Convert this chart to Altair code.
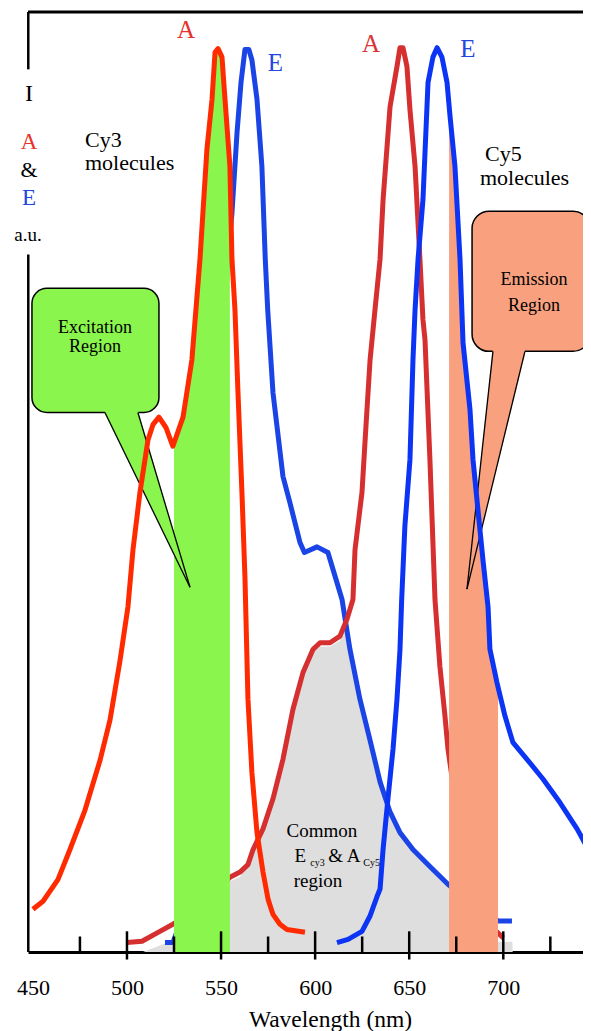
import altair as alt
import pandas as pd

# ---------------- data (nm, a.u.) ----------------
cy3_abs_nm = [450.0, 455.4, 463.3, 469.7, 477.7, 485.7, 491.0, 496.3, 500.5, 503.2,
              506.9, 511.2, 513.8, 517.0, 520.7, 524.4, 529.8, 534.5, 538.8, 542.5,
              545.2, 546.8, 548.4, 550.5, 552.1, 554.7, 555.8, 557.4, 559.0, 561.1,
              562.7, 564.3, 566.4, 569.1, 572.3, 575.0, 577.6, 581.3, 585.0, 594.6]
cy3_abs_val = [4.55, 5.4, 7.7, 10.9, 15.1, 20.4, 24.7, 31.0, 36.7, 42.8,
               48.9, 54.5, 56.1, 56.9, 55.8, 53.8, 56.9, 63.0, 73.7, 85.4,
               90.7, 95.7, 96.1, 95.2, 90.7, 83.6, 73.7, 68.3, 59.5, 48.9,
               39.9, 26.9, 19.1, 12.7, 8.5, 5.6, 4.0, 2.95, 2.4, 2.1]

cy3_em_nm = [520.2, 524.4, 530.0, 536.0, 541.0, 546.0, 550.0, 554.0, 555.8, 558.5,
             560.6, 562.7, 564.8, 566.4, 569.1, 571.7, 573.5, 574.8, 577.6, 582.9,
             586.6, 591.9, 594.3, 601.0, 606.8, 614.3, 618.5, 623.8, 629.1, 634.5,
             639.8, 645.1, 652.0, 661.0, 670.6, 681.0, 690.0, 697.2, 704.6]
cy3_em_val = [1.0, 1.0, 4.0, 12.0, 26.0, 45.0, 62.0, 75.0, 78.6, 87.2,
              92.5, 96.0, 96.0, 94.9, 90.7, 83.6, 73.7, 68.3, 59.5, 50.6,
              47.8, 43.6, 42.5, 43.1, 42.5, 37.5, 32.2, 26.9, 22.6, 18.1,
              14.9, 12.7, 10.9, 9.1, 7.2, 5.5, 4.2, 3.3, 3.3]

cy5_abs_nm = [500.0, 508.0, 517.5, 524.4, 535.0, 545.0, 554.7, 560.1, 564.3, 567.0,
              572.3, 577.6, 582.9, 585.0, 588.2, 593.5, 598.9, 602.6, 607.9, 613.2,
              616.9, 620.1, 621.2, 624.9, 627.0, 629.2, 631.8, 634.5, 636.1, 639.8,
              643.5, 645.1, 646.7, 648.8, 650.4, 653.1, 655.7, 657.3, 658.4, 661.0,
              662.6, 663.7, 666.3, 669.0, 670.6, 676.0, 684.0, 692.0, 700.0]
cy5_abs_val = [1.0, 1.14, 2.2, 2.95, 4.2, 5.8, 7.95, 8.5, 9.3, 10.9,
               13.1, 16.3, 20.5, 22.6, 25.8, 29.7, 32.2, 32.9, 32.9, 33.6,
               35.4, 37.5, 42.8, 48.9, 55.9, 63.0, 68.3, 73.7, 80.0, 89.9,
               94.2, 96.2, 96.2, 94.2, 89.6, 83.6, 73.7, 67.3, 65.1, 52.4,
               43.6, 37.5, 30.4, 25.1, 21.6, 14.0, 7.0, 3.0, 1.5]

cy5_em_nm = [611.6, 617.5, 624.9, 629.1, 632.9, 634.5, 636.1, 638.7, 641.4, 643.5,
             645.1, 646.0, 647.7, 650.4, 652.0, 653.1, 654.7, 657.3, 660.0, 662.6,
             664.8, 667.4, 670.1, 671.7, 674.3, 677.0, 678.6, 682.3, 683.9, 686.5,
             689.2, 691.9, 692.9, 696.6, 700.9, 705.1, 712.6, 721.1, 730.1, 739.2,
             746.6]
cy5_em_val = [1.0, 1.35, 2.2, 3.8, 5.9, 6.7, 10.9, 16.3, 21.6, 26.9,
              32.2, 37.5, 45.3, 52.4, 63.0, 68.3, 73.7, 80.0, 92.5, 95.2,
              96.2, 95.2, 92.5, 88.9, 83.6, 73.7, 64.8, 57.7, 52.4, 47.1,
              41.7, 36.7, 32.2, 28.7, 25.1, 22.3, 20.5, 18.4, 15.9, 13.1,
              10.4]

# shaded regions
excitation_nm = [525.0, 529.8, 534.5, 538.8, 542.5, 545.2, 546.8, 548.4, 550.5, 552.1, 554.7]
excitation_val = [53.6, 56.9, 63.0, 73.7, 85.4, 90.7, 95.7, 96.1, 95.2, 90.7, 83.6]

emission_nm = [671.2, 671.7, 674.3, 677.0, 678.6, 682.3, 683.9, 686.5, 689.2, 691.9, 692.9, 696.6, 697.2]
emission_val = [88.0, 88.9, 83.6, 73.7, 64.8, 57.7, 52.4, 47.1, 41.7, 36.7, 32.2, 28.7, 28.3]

common_nm = [508.5, 520.2, 524.4, 540.0, 554.7, 560.1, 567.0, 572.3, 577.6, 582.9,
             588.2, 593.5, 598.9, 602.6, 607.9, 613.2, 615.9, 618.5, 623.8, 629.1,
             634.5, 639.8, 645.1, 652.0, 661.0, 670.6, 685.0, 697.2, 704.8, 705.0]
common_val = [0.0, 0.9, 0.9, 3.0, 7.5, 8.0, 10.4, 12.6, 15.7, 20.0,
              25.3, 29.2, 31.8, 32.5, 32.5, 33.1, 36.0, 31.9, 26.6, 22.3,
              17.7, 14.6, 12.4, 10.6, 8.8, 6.9, 3.0, 1.1, 1.1, 0.0]

label_ticks = [450, 500, 550, 600, 650, 700]
major_ticks = [500, 550, 600, 650, 700]
minor_ticks = [475, 525, 575, 625, 675, 725]

PLOT_W = 555
X_MIN = 447.4
X_MAX = X_MIN + PLOT_W / 1.8816
FONT = "Liberation Serif, Times New Roman, serif"

# ---------------- scales / helpers ----------------
xs = alt.Scale(domain=[X_MIN, X_MAX], nice=False, zero=False)
ys = alt.Scale(domain=[0, 100], nice=False, zero=False)
xaxis = alt.Axis(values=label_ticks, ticks=False, tickSize=0, grid=False,
                 domainColor="black", domainWidth=3,
                 labelFont=FONT, labelFontSize=22, labelColor="black",
                 labelBaseline="middle", labelPadding=35, labelFlush=False,
                 labelOverlap=False,
                 title="Wavelength (nm)", titleFont=FONT, titleFontSize=23.5,
                 titleFontWeight="normal", titleColor="black",
                 titleX=302, titleY=74, titleBaseline="alphabetic", titleAlign="center")


def X(f):
    return alt.X(f, type="quantitative", scale=xs, axis=xaxis)


def Y(f):
    return alt.Y(f, type="quantitative", scale=ys, axis=None)


def curve(nm, val):
    return pd.DataFrame({"nm": nm, "val": val})


def line_layer(nm, val, color):
    return alt.Chart(curve(nm, val)).mark_line(
        color=color, strokeWidth=5, strokeJoin="round").encode(x=X("nm"), y=Y("val"))


def area_layer(nm, val, color):
    return alt.Chart(curve(nm, val)).mark_area(color=color, opacity=1).encode(
        x=X("nm"), y=Y("val"), y2=alt.datum(0))


gray = area_layer(common_nm, common_val, "#dedede")
cy3_em = line_layer(cy3_em_nm, cy3_em_val, "#1a44e6")
cy5_abs = line_layer(cy5_abs_nm, cy5_abs_val, "#d62f2f")
green = area_layer(excitation_nm, excitation_val, "#8af54c")
salmon = area_layer(emission_nm, emission_val, "#f9a07f")
cy3_abs = line_layer(cy3_abs_nm, cy3_abs_val, "#ff2a00")
cy5_em = line_layer(cy5_em_nm, cy5_em_val, "#0b34f5")

# ---------------- callouts (speech bubbles) ----------------
box_df = pd.DataFrame({
    "x1": [449.5, 683.4], "x2": [517.0, 746.1],
    "y1": [57.4, 63.9], "y2": [70.6, 78.8],
    "fill": ["#8af54c", "#f9a07f"], "r": [15, 17]})
boxes = alt.layer(*[
    alt.Chart(box_df.iloc[[i]]).mark_rect(
        fill=box_df["fill"][i], stroke="black", strokeWidth=1.5,
        cornerRadius=int(box_df["r"][i])).encode(
        x=X("x1"), x2=alt.X2("x2"), y=Y("y1"), y2=alt.Y2("y2"))
    for i in range(2)])

ptr_green = pd.DataFrame({"nm": [488.3, 505.8, 533.5],
                          "top": [57.62, 57.62, 38.8], "bot": [57.2, 50.2, 38.8]})
ptr_salmon = pd.DataFrame({"nm": [680.7, 694.5, 711.5],
                           "top": [38.6, 64.12, 64.12], "bot": [38.6, 49.9, 63.6]})
ptr_fill = alt.layer(
    alt.Chart(ptr_green).mark_area(color="#8af54c", opacity=1).encode(
        x=X("nm"), y=Y("top"), y2=alt.Y2("bot")),
    alt.Chart(ptr_salmon).mark_area(color="#f9a07f", opacity=1).encode(
        x=X("nm"), y=Y("top"), y2=alt.Y2("bot")))
ptr_lines_df = pd.DataFrame({
    "seg": ["g1", "g1", "g2", "g2", "s1", "s1", "s2", "s2"],
    "nm": [488.3, 533.5, 505.8, 533.5, 680.7, 694.5, 680.7, 711.5],
    "val": [57.4, 38.8, 57.4, 38.8, 38.6, 63.9, 38.6, 63.9]})
ptr_lines = alt.Chart(ptr_lines_df).mark_line(color="black", strokeWidth=1.3).encode(
    x=X("nm"), y=Y("val"), detail="seg:N")

# ---------------- frame and ticks ----------------
frame_h = pd.DataFrame({"x1": [X_MIN], "x2": [X_MAX + 5], "y": [100]})
frame_top = alt.Chart(frame_h).mark_rule(color="black", strokeWidth=3).encode(
    x=X("x1"), x2=alt.X2("x2"), y=Y("y"))
frame_v = pd.DataFrame({"x": [447.55, 447.55], "y1": [93.9, 0], "y2": [100, 74.2]})
frame_left = alt.Chart(frame_v).mark_rule(color="black", strokeWidth=2.5).encode(
    x=X("x"), y=Y("y1"), y2=alt.Y2("y2"))

ticks_df = pd.DataFrame({
    "t": major_ticks + minor_ticks,
    "y1": [-0.8] * len(major_ticks) + [0] * len(minor_ticks),
    "y2": [2.2] * len(major_ticks) + [1.65] * len(minor_ticks)})
ticks = alt.Chart(ticks_df).mark_rule(color="black", strokeWidth=2.5).encode(
    x=X("t"), y=Y("y1"), y2=alt.Y2("y2"))

# ---------------- texts ----------------
txt_center = pd.DataFrame([
    ("A", 531.4, 97.2, "#e8312a", 25),
    ("E", 578.9, 93.7, "#2446e0", 25),
    ("A", 629.7, 95.7, "#d83535", 25),
    ("E", 681.2, 95.2, "#2446e0", 25),
    ("I", 447.9, 90.5, "black", 24),
    ("A", 447.9, 85.4, "#e8312a", 23),
    ("&", 447.9, 82.5, "black", 22),
    ("E", 447.9, 79.5, "#2446e0", 23),
    ("a.u.", 447.4, 75.6, "black", 19),
    ("Common", 603.6, 12.2, "black", 19),
    ("region", 601.5, 6.95, "black", 19),
], columns=["text", "nm", "val", "color", "size"])

txt_left = pd.DataFrame([
    ("Cy3", 477.7, 85.6, 22),
    ("molecules", 477.7, 83.2, 22),
    ("Cy5", 690.3, 84.1, 22),
    ("molecules", 687.6, 81.6, 22),
    ("E", 589.0, 9.6, 19),
    ("cy3", 597.4, 9.1, 10),
    ("& A", 607.0, 9.6, 19),
    ("Cy5", 625.6, 9.1, 10),
], columns=["text", "nm", "val", "size"])

txt_box = pd.DataFrame([
    ("Excitation", 483.0, 66.4),
    ("Region", 483.0, 64.4),
    ("Emission", 716.3, 71.5),
    ("Region", 716.3, 68.7),
], columns=["text", "nm", "val"])

t1 = alt.Chart(txt_center).mark_text(font=FONT, align="center", baseline="alphabetic").encode(
    x=X("nm"), y=Y("val"), text="text:N",
    color=alt.Color("color:N", scale=None), size=alt.Size("size:Q", scale=None))
t2 = alt.Chart(txt_left).mark_text(font=FONT, align="left", baseline="alphabetic",
                                   color="black").encode(
    x=X("nm"), y=Y("val"), text="text:N", size=alt.Size("size:Q", scale=None))
t3 = alt.Chart(txt_box).mark_text(font=FONT, align="center", baseline="middle",
                                  color="black", fontSize=18).encode(
    x=X("nm"), y=Y("val"), text="text:N")

chart = alt.layer(
    gray, cy3_em, cy5_abs, green, salmon,
    boxes, ptr_fill, ptr_lines,
    cy3_abs, cy5_em,
    frame_top, frame_left, ticks,
    t1, t2, t3,
).properties(
    width=PLOT_W, height=940,
    padding={"left": 20, "top": 4, "right": 0, "bottom": 79},
    autosize=alt.AutoSizeParams(type="none"),
    background="white",
).configure_view(stroke=None)

chart.save("out.html", embed_options={"renderer": "svg", "actions": False})
